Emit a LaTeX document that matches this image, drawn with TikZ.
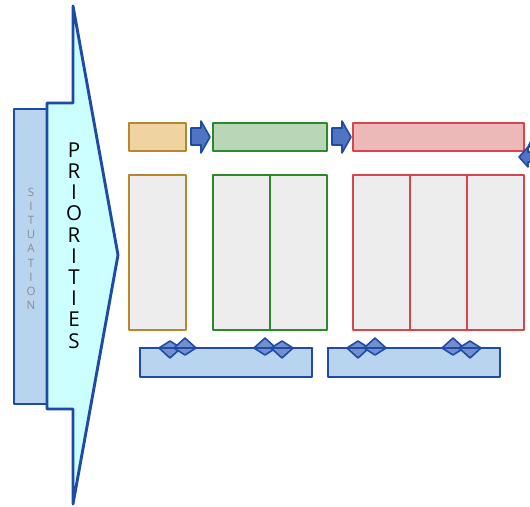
\documentclass[tikz,border=0pt]{standalone}
\usepackage{fontspec}
\setsansfont{Open Sans}
\usepackage{tikz}
\usetikzlibrary{arrows}

\definecolor{frameblue}{HTML}{1E4BA6}
\definecolor{sitfill}{HTML}{B8D4EE}
\definecolor{prifill}{HTML}{CCFFFF}
\definecolor{orgfill}{HTML}{EFD3A0}
\definecolor{orgline}{HTML}{B8862E}
\definecolor{grnfill}{HTML}{B9D6B6}
\definecolor{grnline}{HTML}{2A8A2A}
\definecolor{redfill}{HTML}{ECB8B8}
\definecolor{redline}{HTML}{D9454B}
\definecolor{cellgray}{HTML}{EDEDED}
\definecolor{arrowblue}{HTML}{5073C2}
\definecolor{sittext}{HTML}{8C8C8C}

\tikzset{
  bluebox/.style={draw=frameblue,line width=2.9pt},
  blockarrow/.style={draw=frameblue,fill=arrowblue,line width=1.6pt},
  smallarrow/.style={draw=frameblue,fill=arrowblue!80,line width=1.6pt},
  orgbox/.style={draw=orgline,line width=2.8pt},
  grnbox/.style={draw=grnline,line width=2.8pt},
  redbox/.style={draw=redline,line width=2.8pt}
}

\begin{document}
\begin{tikzpicture}[line cap=round,line join=round,>=triangle 45,x=1pt,y=-1pt]
\useasboundingbox (0.,0.) rectangle (530.,506.);
% situation and priorities
\draw [bluebox,fill=sitfill] (14.,109.) rectangle (47.,404.);
\draw [bluebox,fill=prifill] (47.,103.)-- (73.,103.)-- (73.,6.)-- (118.,255.)-- (73.,504.)-- (73.,409.)-- (47.,409.)-- cycle;
\foreach \c [count=\i] in {S,I,T,U,A,T,I,O,N}
  \draw (31.,192.+14.2*\i-14.2) node[font=\sffamily\fontsize{11.5}{11.5}\selectfont,text=sittext] (sit\i) {\c};
\foreach \c [count=\i] in {P,R,I,O,R,I,T,I,E,S}
  \draw (74.,150.+21.2*\i-21.2) node[font=\sffamily\fontsize{20.5}{20.5}\selectfont] (pri\i) {\c};
% top row
\draw [orgbox,fill=orgfill] (129.,123.) rectangle (186.,151.);
\draw [grnbox,fill=grnfill] (213.,123.) rectangle (327.,151.);
\draw [redbox,fill=redfill] (353.,123.) rectangle (524.,151.);
\draw [blockarrow] (191.,128.)-- (201.,128.)-- (201.,121.)-- (210.,137.)-- (201.,153.)-- (201.,145.)-- (191.,145.)-- cycle;
\draw [blockarrow] (332.,128.)-- (342.,128.)-- (342.,121.)-- (351.,137.)-- (342.,153.)-- (342.,145.)-- (332.,145.)-- cycle;
\begin{scope}
\clip (500.,100.) rectangle (530.,200.);
\draw [blockarrow] (535.,152.)-- (528.,152.)-- (528.,147.)-- (519.,157.)-- (528.,167.)-- (528.,162.)-- (535.,162.)-- cycle;
\draw [blockarrow] (528.,147.)-- (532.,139.)-- (536.,147.)-- cycle;
\end{scope}
% lower cells
\draw [orgbox,fill=cellgray] (129.,175.) rectangle (186.,330.);
\draw [grnbox,fill=cellgray] (213.,175.) rectangle (327.,330.);
\draw [grnbox] (270.,175.)-- (270.,330.);
\draw [redbox,fill=cellgray] (353.,175.) rectangle (524.,330.);
\draw [redbox] (410.,175.)-- (410.,330.);
\draw [redbox] (467.,175.)-- (467.,330.);
% bottom bars
\draw [bluebox,fill=sitfill] (140.,348.) rectangle (312.,377.);
\draw [bluebox,fill=sitfill] (328.,348.) rectangle (500.,377.);
\draw [smallarrow] (159.,348.)-- (170.,341.)-- (181.,348.)-- (170.,358.)-- cycle;
\draw [smallarrow] (174.,348.)-- (185.,338.)-- (196.,348.)-- (185.,355.)-- cycle;
\draw [smallarrow] (254.,348.)-- (265.,338.)-- (276.,348.)-- (265.,355.)-- cycle;
\draw [smallarrow] (271.,348.)-- (282.,341.)-- (293.,348.)-- (282.,358.)-- cycle;
\draw [smallarrow] (347.,348.)-- (358.,341.)-- (369.,348.)-- (358.,358.)-- cycle;
\draw [smallarrow] (364.,348.)-- (375.,338.)-- (386.,348.)-- (375.,355.)-- cycle;
\draw [smallarrow] (442.,348.)-- (453.,338.)-- (464.,348.)-- (453.,355.)-- cycle;
\draw [smallarrow] (459.,348.)-- (470.,341.)-- (481.,348.)-- (470.,358.)-- cycle;
\draw [bluebox] (140.,348.)-- (312.,348.);
\draw [bluebox] (328.,348.)-- (500.,348.);
\end{tikzpicture}
\end{document}
